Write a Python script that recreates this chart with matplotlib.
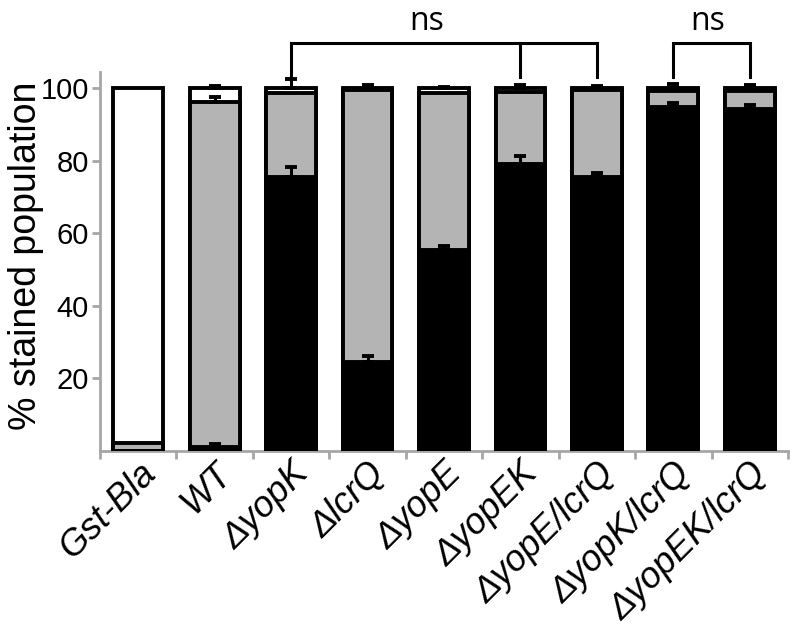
import matplotlib
matplotlib.use("Agg")
import matplotlib.pyplot as plt
import numpy as np

categories = ['Gst-Bla', 'WT', 'ΔyopK', 'ΔlcrQ', 'ΔyopE', 'ΔyopEK',
              'ΔyopE/lcrQ', 'ΔyopK/lcrQ', 'ΔyopEK/lcrQ']
black_top = [0, 1.0, 75.5, 24.5, 55.3, 79.0, 75.5, 94.8, 94.4]
black_err = [0, 0.8, 2.8, 1.6, 1.2, 2.3, 1.2, 1.1, 1.0]
gray_top = [2.0, 96.3, 98.8, 99.5, 98.6, 99.0, 99.5, 99.3, 99.3]
gray_err = [0, 1.2, 0, 0, 0, 0, 0, 0, 0]
white_top = [100, 100, 100, 100, 100, 100, 100, 100, 100]
white_err = [0, 0.7, 2.7, 1.0, 0.5, 1.0, 0.7, 1.1, 1.0]
yticks = [20, 40, 60, 80, 100]

GRAY = '#b4b4b4'
AX = '#a6a6a6'

fig = plt.figure(figsize=(8, 6.32), dpi=100)
ax = fig.add_axes([0.125, 0.287, 0.86, 0.599])

x = np.arange(len(categories))
w = 0.65
lw = 2.8
ax.bar(x, white_top, width=w, color='white', edgecolor='black', linewidth=lw, zorder=2)
ax.bar(x, gray_top, width=w, color=GRAY, edgecolor='black', linewidth=lw, zorder=3)
ax.bar(x, black_top, width=w, color='black', edgecolor='black', linewidth=lw, zorder=4)

for tops, errs in [(black_top, black_err), (gray_top, gray_err), (white_top, white_err)]:
    t = np.array(tops, float)
    e = np.array(errs, float)
    m = e > 0
    ax.errorbar(x[m], t[m], yerr=[np.zeros(m.sum()), e[m]], fmt='none',
                ecolor='black', elinewidth=2.2, capsize=4.5, capthick=2.8, zorder=5)

ax.set_xlim(-0.5, len(categories) - 0.5)
ax.set_ylim(0, 104.5)

for s in ['top', 'right']:
    ax.spines[s].set_visible(False)
for s in ['left', 'bottom']:
    ax.spines[s].set_color(AX)
    ax.spines[s].set_linewidth(2)

ax.set_yticks(yticks)
ax.set_yticklabels([str(v) for v in yticks], fontsize=21, family='Liberation Sans')
ax.tick_params(axis='y', length=6, width=2, color=AX, pad=2)

ax.set_xticks(x)
ax.set_xticklabels(categories, rotation=45, ha='right', rotation_mode='anchor',
                   fontsize=26, family='Liberation Sans', style='italic')
ax.tick_params(axis='x', length=0, pad=4)
ax.set_xticks(np.arange(-0.5, len(categories)), minor=True)
ax.tick_params(axis='x', which='minor', length=6, width=2, color=AX)

ax.set_ylabel('% stained population', fontsize=27, family='Liberation Sans')
ax.yaxis.set_label_coords(-0.082, 0.514)

# significance brackets
bl = 2.2
ax.plot([2, 2, 6, 6], [103, 112.4, 112.4, 103], color='black', lw=bl, clip_on=False,
        solid_joinstyle='miter')
ax.plot([5, 5], [112.4, 103], color='black', lw=bl, clip_on=False)
ax.plot([7, 7, 8, 8], [103, 112.4, 112.4, 103], color='black', lw=bl, clip_on=False,
        solid_joinstyle='miter')
ax.text(3.77, 118.5, 'ns', ha='center', va='center', fontsize=23, family='Open Sans')
ax.text(7.45, 118.5, 'ns', ha='center', va='center', fontsize=23, family='Open Sans')

fig.savefig('out.png', dpi=100)
